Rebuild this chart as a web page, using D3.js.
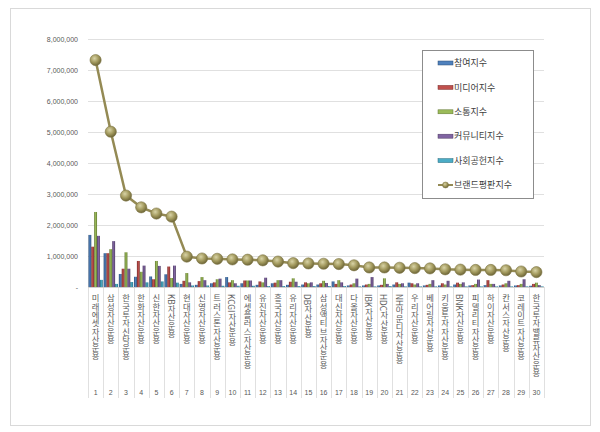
<!doctype html>
<html>
<head>
<meta charset="utf-8">
<style>
  body { margin: 0; background: #fff; }
  text { font-family: "Noto Sans CJK KR", "Noto Sans", sans-serif; }
</style>
<script src="https://d3js.org/d3.v7.min.js"></script>
</head>
<body>
<script>
// 30 asset managers, brand reputation sub-indices
var companies = ["미래에셋자산운용", "삼성자산운용", "한국투자신탁운용", "한화자산운용", "신한자산운용",
  "KB자산운용", "현대자산운용", "신영자산운용", "트러스톤자산운용", "KCGI자산운용",
  "에셋플러스자산운용", "유진자산운용", "흥국자산운용", "유리자산운용", "DB자산운용",
  "삼성액티브자산운용", "대신자산운용", "다올자산운용", "IBK자산운용", "HDC자산운용",
  "NH아문디자산운용", "우리자산운용", "베어링자산운용", "키움투자자산운용", "BNK자산운용",
  "피델리티자산운용", "하이자산운용", "칸서스자산운용", "코레이트자산운용", "한국투자밸류자산운용"];

var seriesNames = ["참여지수", "미디어지수", "소통지수", "커뮤니티지수", "사회공헌지수"];
var lineName = "브랜드평판지수";

var participation = [1680000, 1090000, 420000, 330000, 340000, 410000, 100000, 70000, 120000, 320000,
  120000, 70000, 120000, 70000, 80000, 80000, 180000, 50000, 50000, 50000,
  80000, 140000, 50000, 50000, 80000, 50000, 60000, 50000, 50000, 40000];
var media = [1300000, 1090000, 590000, 840000, 250000, 660000, 200000, 190000, 150000, 150000,
  210000, 180000, 140000, 170000, 150000, 120000, 100000, 80000, 80000, 70000,
  150000, 120000, 70000, 120000, 140000, 60000, 220000, 80000, 60000, 100000];
var communication = [2420000, 1220000, 1120000, 490000, 840000, 290000, 450000, 320000, 250000, 220000,
  210000, 150000, 220000, 280000, 120000, 200000, 220000, 120000, 100000, 280000,
  100000, 80000, 100000, 80000, 100000, 100000, 100000, 120000, 100000, 140000];
var community = [1650000, 1480000, 590000, 690000, 680000, 690000, 150000, 220000, 270000, 120000,
  210000, 300000, 220000, 170000, 150000, 130000, 150000, 270000, 320000, 100000,
  120000, 120000, 220000, 200000, 150000, 240000, 100000, 200000, 250000, 60000];
var social = [230000, 100000, 160000, 150000, 180000, 140000, 50000, 50000, 40000, 40000,
  40000, 30000, 30000, 30000, 30000, 30000, 30000, 20000, 20000, 30000,
  20000, 20000, 20000, 20000, 20000, 20000, 20000, 20000, 20000, 20000];
var brandIndex = [7320000, 5010000, 2950000, 2570000, 2370000, 2270000, 980000, 920000, 910000, 890000,
  880000, 860000, 820000, 770000, 760000, 750000, 740000, 700000, 630000, 630000,
  620000, 610000, 600000, 570000, 560000, 550000, 550000, 540000, 500000, 480000];

var yTicks = [0, 1000000, 2000000, 3000000, 4000000, 5000000, 6000000, 7000000, 8000000];

var colors = ["#4f81bd", "#c0504d", "#9bbb59", "#8064a2", "#4bacc6"];
var darker = ["#2c4d75", "#772c2a", "#5f7530", "#4d3b62", "#276a7c"];
var lineColor = "#948a54";

var width = 600, height = 432;
var plotLeft = 88, plotRight = 544, plotTop = 39, plotBottom = 287;

var svg = d3.select("body").append("svg")
  .attr("width", width)
  .attr("height", height);

var defs = svg.append("defs");
colors.forEach(function(c, i) {
  var g = defs.append("linearGradient").attr("id", "bar" + i)
    .attr("x1", 0).attr("x2", 1).attr("y1", 0).attr("y2", 0);
  g.append("stop").attr("offset", "0%").attr("stop-color", darker[i]);
  g.append("stop").attr("offset", "50%").attr("stop-color", c);
  g.append("stop").attr("offset", "100%").attr("stop-color", darker[i]);
});
var mg = defs.append("radialGradient").attr("id", "marker")
  .attr("cx", "40%").attr("cy", "35%").attr("r", "65%");
mg.append("stop").attr("offset", "0%").attr("stop-color", "#d8d3a6");
mg.append("stop").attr("offset", "55%").attr("stop-color", "#a39a5e");
mg.append("stop").attr("offset", "100%").attr("stop-color", "#6e6638");

// outer chart border
svg.append("rect")
  .attr("x", 10.5).attr("y", 8.5)
  .attr("width", 580).attr("height", 417)
  .attr("fill", "#fff").attr("stroke", "#d9d9d9");

var x = d3.scaleBand().domain(d3.range(companies.length)).range([plotLeft, plotRight]);
var xs = d3.scaleBand().domain(d3.range(seriesNames.length))
  .range([0, x.bandwidth()]).paddingOuter(0.15);
var y = d3.scaleLinear().domain([0, 8000000]).range([plotBottom, plotTop]);

// gridlines
svg.append("g").selectAll("line").data(yTicks.slice(1)).enter().append("line")
  .attr("x1", plotLeft).attr("x2", plotRight)
  .attr("y1", function(d) { return Math.round(y(d)) + 0.5; })
  .attr("y2", function(d) { return Math.round(y(d)) + 0.5; })
  .attr("stroke", "#e0e0e0");

// y axis labels
var yAxis = svg.append("g")
  .attr("transform", "translate(" + (plotLeft - 7) + ",0)")
  .call(d3.axisLeft(y).tickValues(yTicks).tickSize(0)
    .tickFormat(function(d) { return d === 0 ? "-  " : d3.format(",")(d); }));
yAxis.select(".domain").remove();
yAxis.selectAll("text")
  .attr("fill", "#595959")
  .style("font-family", "Arial, 'Liberation Sans', sans-serif")
  .style("font-size", "7px");

// category separators below plot
svg.append("g").selectAll("line").data(d3.range(companies.length + 1)).enter().append("line")
  .attr("x1", function(d) { return Math.round(plotLeft + d * x.step()) + 0.5; })
  .attr("x2", function(d) { return Math.round(plotLeft + d * x.step()) + 0.5; })
  .attr("y1", plotBottom).attr("y2", 398)
  .attr("stroke", "#e0e0e0");

// bars
var allSeries = [participation, media, communication, community, social];
allSeries.forEach(function(vals, si) {
  svg.append("g").selectAll("rect").data(vals).enter().append("rect")
    .attr("x", function(d, i) { return x(i) + xs(si); })
    .attr("y", function(d) { return y(d); })
    .attr("width", xs.bandwidth())
    .attr("height", function(d) { return plotBottom - y(d); })
    .attr("fill", "url(#bar" + si + ")");
});

// baseline
svg.append("line")
  .attr("x1", plotLeft).attr("x2", plotRight)
  .attr("y1", plotBottom + 0.5).attr("y2", plotBottom + 0.5)
  .attr("stroke", "#d0d0d0");

// brand index line
var line = d3.line()
  .x(function(d, i) { return x(i) + x.bandwidth() / 2; })
  .y(function(d) { return y(d); });
svg.append("path")
  .datum(brandIndex)
  .attr("d", line)
  .attr("fill", "none")
  .attr("stroke", lineColor)
  .attr("stroke-width", 2.5);
svg.append("g").selectAll("circle").data(brandIndex).enter().append("circle")
  .attr("cx", function(d, i) { return x(i) + x.bandwidth() / 2; })
  .attr("cy", function(d) { return y(d); })
  .attr("r", 5.6)
  .attr("fill", "url(#marker)")
  .attr("stroke", "#7d7544")
  .attr("stroke-width", 0.6);

// company names, vertical
svg.append("g").selectAll("text").data(companies).enter().append("text")
  .attr("x", function(d, i) { return x(i) + x.bandwidth() / 2; })
  .attr("y", 294)
  .style("writing-mode", "vertical-rl")
  .style("text-orientation", "mixed")
  .attr("fill", "#595959")
  .style("font-size", "8.3px")
  .text(function(d) { return d; });

// rank numbers
svg.append("g").selectAll("text").data(companies).enter().append("text")
  .attr("x", function(d, i) { return x(i) + x.bandwidth() / 2; })
  .attr("y", 395)
  .attr("text-anchor", "middle")
  .attr("fill", "#595959")
  .style("font-family", "Arial, 'Liberation Sans', sans-serif")
  .style("font-size", "7px")
  .text(function(d, i) { return i + 1; });

// legend
var legend = svg.append("g");
legend.append("rect")
  .attr("x", 422.5).attr("y", 50.5)
  .attr("width", 111).attr("height", 148)
  .attr("fill", "#fff").attr("stroke", "#8c8c8c");
var legendItems = seriesNames.concat([lineName]);
var ly = d3.scalePoint().domain(d3.range(legendItems.length)).range([63, 185]);
legendItems.forEach(function(name, i) {
  var g = legend.append("g").attr("transform", "translate(0," + ly(i) + ")");
  if (i < seriesNames.length) {
    g.append("rect")
      .attr("x", 438).attr("y", -2)
      .attr("width", 15).attr("height", 4)
      .attr("fill", colors[i]).attr("stroke", darker[i]).attr("stroke-width", 0.5);
  } else {
    g.append("line").attr("x1", 438).attr("x2", 453).attr("y1", 0).attr("y2", 0)
      .attr("stroke", lineColor).attr("stroke-width", 2);
    g.append("circle").attr("cx", 445.5).attr("cy", 0).attr("r", 3)
      .attr("fill", "url(#marker)").attr("stroke", "#7d7544").attr("stroke-width", 0.5);
  }
  g.append("text")
    .attr("x", 454).attr("y", 0)
    .attr("dy", "0.35em")
    .attr("fill", "#404040")
    .style("font-size", "9px")
    .text(name);
});
</script>
</body>
</html>
